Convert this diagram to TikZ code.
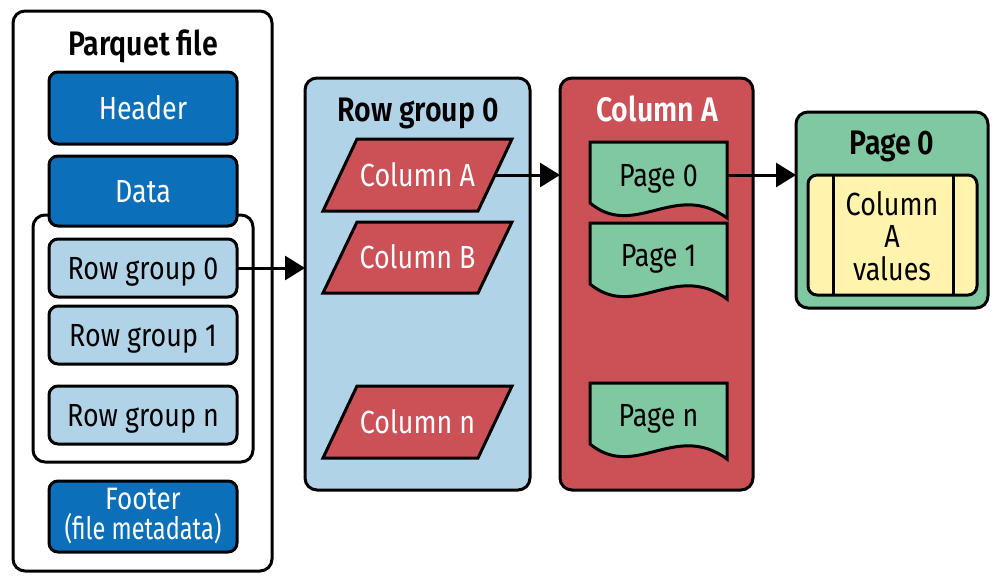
\documentclass[tikz,border=0pt]{standalone}
\usepackage{fontspec}
\setmainfont[FakeStretch=0.84, BoldFont={Fira Sans SemiBold}]{Fira Sans}
\newfontfamily\narrowfont[FakeStretch=0.76]{Fira Sans}
\usetikzlibrary{arrows.meta}
\definecolor{dblue}{HTML}{0B6FBA}
\definecolor{lblue}{HTML}{B1D3E8}
\definecolor{cred}{HTML}{CC5157}
\definecolor{cgreen}{HTML}{80C8A2}
\definecolor{cyellow}{HTML}{FFF3AE}
\begin{document}
\begin{tikzpicture}[x=1pt,y=-1pt,
  every node/.style={inner sep=0pt,outer sep=0pt},
  lw/.style={line width=3pt},
  txt/.style={font=\fontsize{32}{32}\selectfont, text height=22pt, text depth=0pt},
  ttl/.style={font=\bfseries\fontsize{34}{34}\selectfont, anchor=base},
  box/.style={draw, lw, rounded corners=9pt, minimum width=188pt, txt},
  darkbox/.style={box, fill=dblue, text=white},
  lightbox/.style={box, fill=lblue, minimum height=58pt},
  bigbox/.style={draw, lw, rounded corners=12pt},
  colbody/.style={txt, text=white, minimum width=155pt, minimum height=72pt},
  colshape/.style={draw, lw, fill=cred, line join=miter},
  pagebody/.style={txt, minimum width=137pt, minimum height=66pt},
  pageshape/.style={draw, lw, fill=cgreen, line join=miter},
  arr/.style={lw, -{Triangle[length=20pt,width=24pt]}}
]
\useasboundingbox (0,0) rectangle (1005,576);

% Parquet file
\node[bigbox, fill=white, minimum width=259pt, minimum height=560pt] (file) at (142.5,291) {};
\node[ttl] (filetitle) at (143,55) {Parquet file};
\node[bigbox, fill=white, minimum width=220pt, minimum height=247pt] (cont) at (143,338.5) {};
\node[darkbox, minimum height=72pt] (header) at (143,108) {Header};
\node[darkbox, minimum height=70pt] (data) at (143,191) {Data};
\node[lightbox] (rg0) at (143,268) {Row group 0};
\node[lightbox] (rg1) at (143,335) {Row group 1};
\node[lightbox] (rgn) at (143,415) {Row group n};
\node[draw, lw, rounded corners=9pt, minimum width=188pt, minimum height=71pt,
  fill=dblue, text=white, align=center, font=\fontsize{31}{30}\selectfont]
  (footer) at (143,516.5) {Footer\\{\narrowfont (file metadata)}};

% Row group 0
\node[bigbox, fill=lblue, minimum width=225pt, minimum height=412pt] (rgbox) at (417.5,284) {};
\node[ttl] (rgtitle) at (418,121) {Row group 0};
\draw[colshape] (357,139) -- (512,139) -- (478,211) -- (323,211) -- cycle;
\draw[colshape] (357,222) -- (512,222) -- (478,293) -- (323,293) -- cycle;
\draw[colshape] (357,386) -- (512,386) -- (478,458) -- (323,458) -- cycle;
\node[colbody] (colA) at (417.5,175) {Column A};
\node[colbody] (colB) at (417.5,257.5) {Column B};
\node[colbody] (coln) at (417.5,422) {Column n};

% Column A
\node[bigbox, fill=cred, minimum width=193pt, minimum height=412pt] (colbox) at (656.5,284) {};
\node[ttl, text=white] (coltitle) at (657,121) {Column A};

\draw[pageshape] (590,142) -- (727,142) -- ++(0,76)
  .. controls +(-52,-38) and +(45,37) .. ++(-137,-15) -- cycle;
\draw[pageshape] (590,223) -- (727,223) -- ++(0,76)
  .. controls +(-52,-38) and +(45,37) .. ++(-137,-15) -- cycle;
\draw[pageshape] (590,383) -- (727,383) -- ++(0,76)
  .. controls +(-52,-38) and +(45,37) .. ++(-137,-15) -- cycle;
\node[pagebody] (p0) at (658.5,175) {Page 0};
\node[pagebody] (p1) at (658.5,255) {Page 1};
\node[pagebody] (pn) at (658.5,415) {Page n};

% Page 0
\node[bigbox, fill=cgreen, minimum width=192pt, minimum height=196pt] (pagebox) at (892,210) {};
\node[ttl] (pagetitle) at (892,154) {Page 0};
\node[draw, lw, rounded corners=9pt, fill=cyellow, minimum width=169pt, minimum height=120pt] (vals) at (892.5,235) {};
\draw[lw] ([xshift=25pt]vals.north west) -- ([xshift=25pt]vals.south west);
\draw[lw] ([xshift=-24pt]vals.north east) -- ([xshift=-24pt]vals.south east);
\node[align=center, font=\fontsize{32}{32.5}\selectfont] (valtext) at (892,236) {Column\\A\\values};

% connectors
\draw[arr] (rg0.east) -- (rgbox.west |- rg0.east);
\draw[arr] (colA.east) -- (colbox.west |- colA.east);
\draw[arr] (p0.east) -- (pagebox.west |- p0.east);
\end{tikzpicture}
\end{document}
